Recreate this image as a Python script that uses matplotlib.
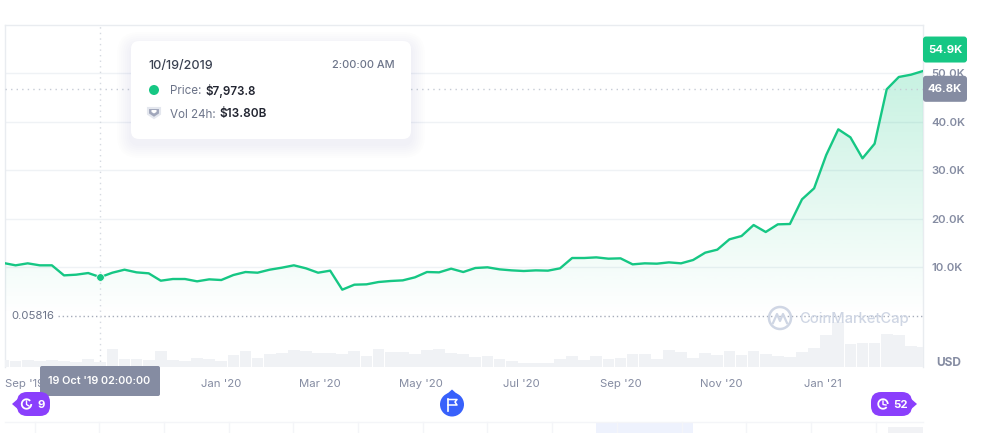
import matplotlib.pyplot as plt
import matplotlib as mpl
import numpy as np
from matplotlib.patches import FancyBboxPatch, Polygon, Circle, Rectangle, Arc

mpl.rcParams['font.family'] = ['Inter', 'DejaVu Sans']

# Weekly price (thousands of USD)
price = [10.89, 10.41, 10.82, 10.41, 10.41, 8.34, 8.48, 8.82, 7.9738, 8.89,
         9.51, 8.96, 8.76, 7.24, 7.59, 7.59, 7.11, 7.52, 7.38, 8.41,
         9.03, 8.89, 9.51, 9.92, 10.41, 9.79, 8.89, 9.31, 5.39, 6.42,
         6.49, 6.97, 7.18, 7.31, 7.93, 9.03, 8.96, 9.72, 9.03, 9.86,
         10.0, 9.58, 9.37, 9.24, 9.37, 9.31, 9.79, 11.92, 11.92, 12.05,
         11.78, 11.85, 10.61, 10.82, 10.75, 11.02, 10.82, 11.51, 13.02, 13.64,
         15.77, 16.45, 18.72, 17.28, 18.86, 18.93, 24.02, 26.29, 33.15, 38.45,
         36.80, 32.47, 35.48, 46.70, 49.24, 49.71, 50.47]

# 24h volume (billions of USD)
volume = [18.6, 17.6, 18.6, 15.7, 20.6, 15.7, 12.7, 22.5, 13.8, 51.0,
          21.6, 21.6, 18.6, 47.0, 18.6, 16.7, 24.5, 23.5, 17.6, 33.3,
          46.0, 26.5, 36.3, 39.2, 49.0, 46.0, 40.2, 39.2, 37.2, 46.0,
          31.4, 51.0, 43.1, 43.1, 37.2, 49.0, 51.0, 39.2, 36.3, 27.4,
          32.3, 21.6, 17.6, 11.8, 11.8, 11.8, 21.6, 30.4, 19.6, 30.4,
          21.6, 25.5, 36.3, 36.3, 23.5, 49.0, 43.1, 26.5, 39.2, 33.3,
          46.0, 33.3, 46.0, 36.3, 30.4, 27.4, 43.1, 53.9, 92.1, 132.3,
          66.6, 69.6, 69.6, 97.0, 92.1, 59.8, 58.8]

price_ticks = [10, 20, 30, 40, 50]
price_tick_labels = ['10.0K', '20.0K', '30.0K', '40.0K', '50.0K']
date_ticks = [1.7, 17.98, 26.16, 34.51, 42.78, 51.04, 59.31, 67.74]
date_labels = ["Sep '19", "Jan '20", "Mar '20", "May '20",
               "Jul '20", "Sep '20", "Nov '20", "Jan '21"]

last_price = 54.9
high_price = 46.8
low_price = 0.05816
hover_index = 8

GREEN = '#16c784'
SLATE = '#858ca2'
GRID = '#eff2f5'
PURPLE = '#8a3ffc'
BLUE = '#3861fb'

W, H = 990, 433
fig = plt.figure(figsize=(W / 100, H / 100), dpi=100)
idx = np.arange(len(price))
x_range = (0.124, len(price) - 1)

# Main axes, placed by pixel edges
left, right, top, bottom = 5, 923, 24.5, 366.7
ax = fig.add_axes([left / W, 1 - bottom / H, (right - left) / W, (bottom - top) / H])
ax.set_xlim(x_range)
ax.set_ylim(-10.49, 60.06)
ax.set_facecolor('white')
ax.spines['bottom'].set_visible(False)
for side in ['top', 'left', 'right']:
    ax.spines[side].set_color('#e9ecf0')
    ax.spines[side].set_linewidth(1)

ax.set_xticks(date_ticks)
ax.set_xticklabels(date_labels, fontsize=8.2, color=SLATE)
ax.tick_params(axis='x', length=0, pad=9)
ax.grid(axis='y', color=GRID, linewidth=1)
ax.set_axisbelow(True)

# Volume bars on their own scale
vol_ax = ax.twinx()
vol_ax.set_ylim(0, 1006)
vol_ax.bar(idx, volume, width=0.97, color='#f0f2f5', linewidth=0, zorder=1)
vol_ax.set_yticks([])
for s in vol_ax.spines.values():
    s.set_visible(False)
vol_ax.patch.set_visible(False)

# Line and gradient stay above the volume bars
line_ax = ax.twinx()
line_ax.set_ylim(ax.get_ylim())
line_ax.set_yticks([])
line_ax.patch.set_visible(False)
for s in line_ax.spines.values():
    s.set_visible(False)

# twinx puts the host ticks on the left, so set the price scale here
ax.yaxis.tick_right()
ax.set_yticks(price_ticks)
ax.set_yticklabels(price_tick_labels, fontsize=8.2, color=SLATE, fontweight='semibold')
ax.tick_params(axis='y', length=0, pad=6)

# Area under the price, fading out towards the base line
grad = np.zeros((256, 1, 4))
grad[:, :, :3] = mpl.colors.to_rgb(GREEN)
grad[:, 0, 3] = np.linspace(0.24, 0.0, 256)
img = line_ax.imshow(grad, extent=(0, len(price) - 1, low_price, max(price)),
                     aspect='auto', origin='upper', zorder=2)
area = Polygon(list(zip(idx, price)) + [(idx[-1], low_price), (0, low_price)],
               closed=True, transform=line_ax.transData, fc='none', ec='none')
line_ax.add_patch(area)
img.set_clip_path(area)
line_ax.set_xlim(x_range)
line_ax.set_ylim(ax.get_ylim())

line_ax.axhline(low_price, color='#a6acba', linewidth=1, linestyle=(0, (1, 2)), zorder=3,
                xmin=(58 - left) / (right - left))
line_ax.axhline(high_price, color='#c6cbd5', linewidth=1, linestyle=(0, (1, 3)), zorder=3)
line_ax.axvline(hover_index, color='#d5d9e0', linewidth=1, linestyle=(0, (1, 3)), zorder=3)
line_ax.plot(idx, price, color=GREEN, linewidth=1.7, zorder=5, solid_joinstyle='round')
line_ax.plot(hover_index, price[hover_index], 'o', color=GREEN, markersize=5.5,
             markeredgecolor='white', markeredgewidth=0.5, zorder=6)
line_ax.text(0.0065, low_price, '0.05816', transform=line_ax.get_yaxis_transform(),
             fontsize=8.2, color='#6c7489', va='center', ha='left', zorder=6)

# Overlay in pixel coordinates for the tooltip, tags and navigator
ov = fig.add_axes([0, 0, 1, 1])
ov.set_xlim(0, W)
ov.set_ylim(H, 0)
ov.axis('off')
ov.patch.set_visible(False)


def price_y(value):
    # pixel row of a price on the main axes
    return H - ax.transData.transform((0, value))[1]


def box(x0, y0, x1, y1, color, rad=3, z=5, alpha=1.0):
    p = FancyBboxPatch((x0 + rad, y0 + rad), x1 - x0 - 2 * rad, y1 - y0 - 2 * rad,
                       boxstyle='round,pad=%f,rounding_size=%f' % (rad, rad),
                       fc=color, ec='none', alpha=alpha, zorder=z)
    ov.add_patch(p)
    return p


# Tooltip card with a soft shadow
for grow in range(14, 0, -2):
    box(131 - grow, 41 - grow + 5, 411 + grow, 139 + grow + 5, '#58667e', rad=8 + grow, z=7, alpha=0.006)
box(131, 41, 411, 139, 'white', rad=8, z=8)
ov.text(148, 65.5, '10/19/2019', fontsize=9, color='#3a4151', va='center', zorder=9, fontweight='medium')
ov.text(395, 65.5, '2:00:00 AM', fontsize=7.9, color='#6c7489', va='center', ha='right', zorder=9, fontweight='medium')
ov.add_patch(Circle((154, 90), 5, fc=GREEN, ec='none', zorder=9))
ov.text(170, 90.5, 'Price: ', fontsize=8.4, color='#6c7489', va='center', zorder=9)
ov.text(205, 90.5, '$7,973.8', fontsize=8.3, color='#222531', va='center', fontweight='semibold', zorder=9)
ov.add_patch(Polygon([(148, 108), (160, 108), (160, 114), (154, 118), (148, 114)], closed=True,
                     fc='#a1a7bb', ec='#e4e7ee', linewidth=1.5, zorder=9))
ov.add_patch(Polygon([(151.5, 110), (156.5, 110), (156.5, 112), (154, 113.5), (151.5, 112)], closed=True,
                     fc='white', ec='none', zorder=10))
ov.text(170, 114.5, 'Vol 24h: ', fontsize=8.4, color='#6c7489', va='center', zorder=9)
ov.text(219, 114.5, '$13.80B', fontsize=8.5, color='#222531', va='center', fontweight='semibold', zorder=9)

# Price tags on the right edge
y_last = price_y(last_price)
y_high = price_y(high_price)
box(923, y_last - 13, 967, y_last + 13, GREEN, rad=3)
ov.text(945, y_last + 0.5, '54.9K', fontsize=8.2, color='white', fontweight='bold', ha='center', va='center', zorder=6)
box(923, y_high - 13, 967, y_high + 13, SLATE, rad=3)
ov.text(945, y_high + 0.5, '46.8K', fontsize=8.2, color='white', fontweight='bold', ha='center', va='center', zorder=6)
ov.text(949, 362.5, 'USD', fontsize=8.6, color=SLATE, fontweight='bold', ha='center', va='center')

# Watermark
ov.add_patch(Arc((780, 318), 22, 22, theta1=0, theta2=360, ec='#cfd6e4', linewidth=1.8, zorder=4))
ov.plot([773, 777, 780, 783, 787], [323, 314, 321, 314, 323], color='#cfd6e4', linewidth=1.6, zorder=4)
ov.text(799, 318.5, 'CoinMarketCap', fontsize=10.6, color='#cfd6e4', va='center', zorder=4, fontweight='medium')

# Crosshair date tag
box(40, 366, 160, 396, SLATE, rad=2, z=6)
ov.text(99.5, 381, "19 Oct '19 02:00:00", fontsize=7.8, color='white', fontweight='semibold', ha='center', va='center', zorder=7)

# Event flags under the dates
box(17, 392, 50, 416, PURPLE, rad=10, z=6)
ov.add_patch(Polygon([(12, 404), (20, 397), (20, 411)], closed=True, fc=PURPLE, ec='none', zorder=6))
ov.add_patch(Arc((26.5, 404), 9.5, 9.5, theta1=0, theta2=320, ec='white', linewidth=1.3, zorder=7))
ov.plot([26.5, 26.5, 29], [401, 404.5, 406], color='white', linewidth=1, zorder=7)
ov.text(41, 404.5, '9', fontsize=8.2, color='white', fontweight='bold', ha='center', va='center', zorder=7)

ov.add_patch(Circle((452, 404.5), 12, fc=BLUE, ec='none', zorder=6))
ov.add_patch(Polygon([(447, 394), (452, 389.5), (457, 394)], closed=True, fc=BLUE, ec='none', zorder=6))
ov.plot([448, 448], [399, 410.5], color='white', linewidth=1.2, zorder=7)
ov.plot([448, 457, 455, 457, 448], [399.5, 399.5, 402, 405, 405], color='white', linewidth=1.1, zorder=7)

box(871, 392, 912, 416, PURPLE, rad=10, z=6)
ov.add_patch(Polygon([(917, 404), (909, 397), (909, 411)], closed=True, fc=PURPLE, ec='none', zorder=6))
ov.add_patch(Arc((883, 404), 9.5, 9.5, theta1=40, theta2=360, ec='white', linewidth=1.3, zorder=7))
ov.plot([883, 883, 886], [401, 404.5, 405], color='white', linewidth=1, zorder=7)
ov.text(901, 404.5, '52', fontsize=8.2, color='white', fontweight='bold', ha='center', va='center', zorder=7)

# Navigator strip along the bottom edge
ov.plot([5, 923], [421.5, 421.5], color='#f4f5f8', linewidth=1)
ov.add_patch(Rectangle((596, 422), 97, 11, fc='#eef2fd', ec='none', zorder=1))
ov.add_patch(Rectangle((888, 427), 35, 6, fc='#f1f2f5', ec='none', zorder=1))
for x in np.arange(34.5, 923, 64.7):
    ov.plot([x, x], [422, 433], color='#f4f5f8', linewidth=1, zorder=2)

fig.savefig('out.png', dpi=100, facecolor='white')
